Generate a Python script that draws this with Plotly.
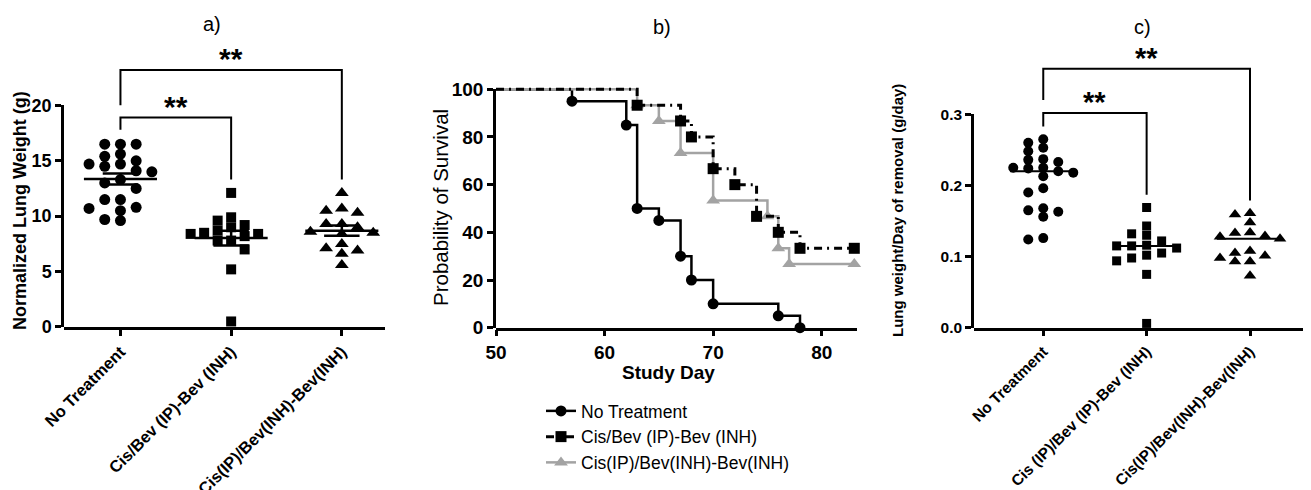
import numpy as np
import plotly.graph_objects as go

# the page adds an 8px body margin; the figure is sized to fill the rest of the window
PAGE_OFF = 8
W, H = 1311 - PAGE_OFF, 490 - PAGE_OFF
FONT = "Liberation Sans, Arial, sans-serif"
GRAY = "#a3a3a3"

# ---------------- data ----------------
groups_a = ["No Treatment", "Cis/Bev (IP)-Bev (INH)", "Cis(IP)/Bev(INH)-Bev(INH)"]
groups_c = ["No Treatment", "Cis (IP)/Bev (IP)-Bev (INH)", "Cis(IP)/Bev(INH)-Bev(INH)"]

weight_no_treatment = [16.5, 16.5, 16.5, 15.6, 15.4, 15.0, 14.7, 14.7, 14.5, 14.0, 13.3,
                       14.1, 13.0, 12.5, 11.5, 11.5, 10.7, 10.8, 10.5, 9.6, 9.7]
weight_cis_bev_ip = [12.1, 9.9, 9.6, 9.2, 9.0, 8.7, 8.5, 8.4, 8.4, 8.2, 7.8, 7.8, 7.0, 5.2, 0.5]
weight_cis_ip_bev_inh = [12.1, 10.7, 10.5, 10.3, 9.3, 9.3, 9.0, 8.6, 8.5, 8.4, 7.5, 7.1, 6.9, 6.6, 5.6]

rate_no_treatment = [0.265, 0.260, 0.253, 0.248, 0.233, 0.236, 0.237, 0.224, 0.225, 0.225, 0.213,
                     0.218, 0.220, 0.196, 0.190, 0.163, 0.156, 0.165, 0.168, 0.124, 0.126]
rate_cis_bev_ip = [0.169, 0.143, 0.132, 0.130, 0.122, 0.116, 0.115, 0.115, 0.112, 0.105, 0.102,
                   0.098, 0.094, 0.075, 0.006]
rate_cis_ip_bev_inh = [0.161, 0.159, 0.148, 0.134, 0.133, 0.129, 0.128, 0.125, 0.108, 0.105,
                       0.101, 0.098, 0.093, 0.093, 0.073]

surv_series = ["No Treatment", "Cis/Bev (IP)-Bev (INH)", "Cis(IP)/Bev(INH)-Bev(INH)"]
surv_start_day = 50
surv_start_pct = 100
surv_days_nt = [57, 62, 63, 65, 67, 68, 70, 76, 78]
surv_pct_nt = [95, 85, 50, 45, 30, 20, 10, 5, 0]
surv_days_ip = [63, 67, 68, 70, 72, 74, 76, 78, 83]
surv_pct_ip = [93.3, 86.7, 80, 66.7, 60, 46.7, 40, 33.3, 33.3]
surv_days_inh = [63, 65, 67, 70, 75, 76, 77, 83]
surv_pct_inh = [93.3, 86.7, 73.3, 53.3, 46.7, 33.3, 26.7, 26.7]

# brackets: (group_from, group_to, top, left_leg_end, right_leg_end)
brackets_a = [(0, 1, 18.9, 17.8, 13.3), (0, 2, 23.2, 20.0, 13.3)]
brackets_c = [(0, 1, 0.302, 0.283, 0.187), (0, 2, 0.364, 0.320, 0.179)]
sig_label = "**"

y_ticks_a = [0, 5, 10, 15, 20]
y_ticks_b = [0, 20, 40, 60, 80, 100]
x_ticks_b = [50, 60, 70, 80]
y_ticks_c = [0.0, 0.1, 0.2, 0.3]

symbols = ["circle", "square", "triangle-up"]
sizes = [11, 10, 12]

# ---------------- geometry (pixels in the window) ----------------
A = dict(x0=64, x1=385, xr=[-0.51, 2.39], y0=327, y1=30, yr=[0, 26.8])
B = dict(x0=496, x1=857, xr=[50, 83.25], y0=327.7, y1=82.1, yr=[0, 103])
C = dict(x0=974, x1=1311, xr=[-0.67, 2.59], y0=327.7, y1=30, yr=[0, 0.4186])


def fx(px):
    return (px - PAGE_OFF) / W


def fy(py):
    return 1 - (py - PAGE_OFF) / H


def dom_x(g):
    return [fx(g["x0"]), min(1.0, fx(g["x1"]))]


def dom_y(g):
    return [fy(g["y0"]), fy(g["y1"])]


def dom_y_upto(g, v):
    b, t = dom_y(g)
    return [b, b + (t - b) * (v - g["yr"][0]) / (g["yr"][1] - g["yr"][0])]


def swarm(vals, g, step_px, dy_px):
    """Column-style scatter: each point takes the nearest free slot (0, -1, +1, -2, ...)."""
    pxc = (g["x1"] - g["x0"]) / (g["xr"][1] - g["xr"][0])
    pxu = (g["y0"] - g["y1"]) / (g["yr"][1] - g["yr"][0])
    vals = np.asarray(vals, float)
    order = np.argsort(-vals, kind="stable")
    cands = [0]
    for k in range(1, 10):
        cands += [-k, k]
    placed = []
    offs = np.zeros(len(vals))
    for i in order:
        yy = vals[i] * pxu
        for c in cands:
            if all(not (c == pc and abs(yy - py) < dy_px) for pc, py in placed):
                break
        placed.append((c, yy))
        offs[i] = c * step_px / pxc
    return offs


fig = go.Figure()

# ---------------- panel a ----------------
for gi, vals in enumerate([weight_no_treatment, weight_cis_bev_ip, weight_cis_ip_bev_inh]):
    offs = swarm(vals, A, 15.7 if gi != 1 else 13.5, 9.5)
    fig.add_trace(go.Scatter(x=gi + offs, y=vals, mode="markers", xaxis="x", yaxis="y",
                             marker=dict(symbol=symbols[gi], size=sizes[gi], color="black"),
                             showlegend=False, cliponaxis=False, hoverinfo="y"))
    m = float(np.mean(vals))
    s = float(np.std(vals, ddof=1) / np.sqrt(len(vals)))
    fig.add_trace(go.Scatter(
        x=[gi - 0.33, gi + 0.33, None, gi - 0.16, gi + 0.16, None, gi, gi, None, gi - 0.16, gi + 0.16],
        y=[m, m, None, m + s, m + s, None, m + s, m - s, None, m - s, m - s],
        mode="lines", line=dict(color="black", width=2.5), xaxis="x", yaxis="y",
        showlegend=False, hoverinfo="skip"))

for (g0, g1, top, l, r) in brackets_a:
    fig.add_trace(go.Scatter(x=[g0, g0, g1, g1], y=[l, top, top, r], mode="lines",
                             line=dict(color="black", width=2), xaxis="x", yaxis="y",
                             showlegend=False, hoverinfo="skip"))
    fig.add_annotation(x=(g0 + g1) / 2, y=top, xref="x", yref="y", text=sig_label,
                       showarrow=False, yanchor="bottom", yshift=-7,
                       font=dict(family=FONT, size=30, color="black", weight="bold"))

# ---------------- panel b ----------------
surv = [(surv_days_nt, surv_pct_nt, "black", "solid", "circle", 11),
        (surv_days_ip, surv_pct_ip, "black", "8px,5px,2px,5px", "square", 11),
        (surv_days_inh, surv_pct_inh, GRAY, "solid", "triangle-up", 12)]
draw_order = [0, 2, 1]
for si in draw_order:
    days, pct, col, dash, sym, msz = surv[si]
    lw = 3 if si == 1 else 2.5
    fig.add_trace(go.Scatter(x=[surv_start_day, days[0]], y=[surv_start_pct, pct[0]],
                             mode="lines", line=dict(color=col, width=lw, dash=dash, shape="hv"),
                             xaxis="x2", yaxis="y2", showlegend=False, hoverinfo="skip"))
    fig.add_trace(go.Scatter(x=days, y=pct, mode="lines+markers", name=surv_series[si],
                             line=dict(color=col, width=lw, dash=dash, shape="hv"),
                             marker=dict(symbol=sym, size=msz, color=col),
                             xaxis="x2", yaxis="y2", legendrank=si + 1, cliponaxis=False))

# ---------------- panel c ----------------
for gi, vals in enumerate([rate_no_treatment, rate_cis_bev_ip, rate_cis_ip_bev_inh]):
    offs = swarm(vals, C, 15.0, 8.0)
    fig.add_trace(go.Scatter(x=gi + offs, y=vals, mode="markers", xaxis="x3", yaxis="y3",
                             marker=dict(symbol=symbols[gi], size=sizes[gi] - 1, color="black"),
                             showlegend=False, cliponaxis=False, hoverinfo="y"))
    med = float(np.median(vals))
    fig.add_trace(go.Scatter(x=[gi - 0.32, gi + 0.32], y=[med, med], mode="lines",
                             line=dict(color="black", width=2), xaxis="x3", yaxis="y3",
                             showlegend=False, hoverinfo="skip"))

for (g0, g1, top, l, r) in brackets_c:
    fig.add_trace(go.Scatter(x=[g0, g0, g1, g1], y=[l, top, top, r], mode="lines",
                             line=dict(color="black", width=2), xaxis="x3", yaxis="y3",
                             showlegend=False, hoverinfo="skip"))
    fig.add_annotation(x=(g0 + g1) / 2, y=top, xref="x3", yref="y3", text=sig_label,
                       showarrow=False, yanchor="bottom", yshift=-7,
                       font=dict(family=FONT, size=29, color="black", weight="bold"))

# empty traces so the display y axes get drawn
for xa, ya in [("x", "y4"), ("x2", "y5"), ("x3", "y6")]:
    fig.add_trace(go.Scatter(x=[None], y=[None], xaxis=xa, yaxis=ya, mode="markers",
                             showlegend=False, hoverinfo="skip"))

# ---------------- axes ----------------
axline = dict(showline=True, linecolor="black", linewidth=2.5, ticks="outside",
              ticklen=6, tickwidth=2.5, tickcolor="black", showgrid=False, zeroline=False,
              automargin=False, fixedrange=True)
hidden_y = dict(visible=False, showgrid=False, zeroline=False, fixedrange=True, automargin=False)

fig.update_layout(
    xaxis=dict(domain=dom_x(A), range=A["xr"], anchor="y", tickvals=[0, 1, 2], ticktext=groups_a,
               tickangle=-45, tickfont=dict(family=FONT, size=16.5, color="black", weight="bold"),
               **axline),
    yaxis=dict(domain=dom_y(A), range=A["yr"], anchor="x", **hidden_y),
    yaxis4=dict(domain=dom_y_upto(A, 20), range=[0, 20], anchor="x", tickvals=y_ticks_a,
                tickfont=dict(family=FONT, size=18, color="black", weight="bold"), **axline),

    xaxis2=dict(domain=dom_x(B), range=B["xr"], anchor="y2", tickvals=x_ticks_b,
                tickfont=dict(family=FONT, size=19, color="black", weight="bold"), **axline),
    yaxis2=dict(domain=dom_y(B), range=B["yr"], anchor="x2", **hidden_y),
    yaxis5=dict(domain=dom_y_upto(B, 100), range=[0, 100], anchor="x2", tickvals=y_ticks_b,
                tickfont=dict(family=FONT, size=19, color="black", weight="bold"), **axline),

    xaxis3=dict(domain=dom_x(C), range=C["xr"], anchor="y3", tickvals=[0, 1, 2], ticktext=groups_c,
                tickangle=-45, tickfont=dict(family=FONT, size=15.5, color="black", weight="bold"),
                **axline),
    yaxis3=dict(domain=dom_y(C), range=C["yr"], anchor="x3", **hidden_y),
    yaxis6=dict(domain=dom_y_upto(C, 0.3), range=[0, 0.3], anchor="x3", tickvals=y_ticks_c,
                tickformat=".1f",
                tickfont=dict(family=FONT, size=15.5, color="black", weight="bold"), **axline),
)

# ---------------- text ----------------
def ann(text, px, py, size, bold=False, angle=0):
    fig.add_annotation(x=fx(px), y=fy(py), xref="paper", yref="paper", text=text,
                       showarrow=False, textangle=angle, xanchor="center", yanchor="middle",
                       font=dict(family=FONT, size=size, color="black",
                                 weight="bold" if bold else "normal"))


ann("a)", 212, 24, 20)
ann("b)", 662, 27, 20)
ann("c)", 1142, 27, 20)
ann("Normalized Lung Weight (g)", 20, 211, 18, bold=True, angle=-90)
ann("Probability of Survival", 440, 207, 20.5, angle=-90)
ann("Lung weight/Day of removal (g/day)", 897, 211, 15, bold=True, angle=-90)
ann("Study Day", 668, 372, 19, bold=True)

fig.update_layout(
    width=W, height=H, autosize=False,
    margin=dict(l=0, r=0, t=0, b=0, pad=0, autoexpand=False),
    paper_bgcolor="white", plot_bgcolor="rgba(0,0,0,0)",
    font=dict(family=FONT, color="black"),
    showlegend=True,
    legend=dict(x=fx(541), y=fy(393), xanchor="left", yanchor="top",
                font=dict(family=FONT, size=17.5, color="black"),
                bgcolor="rgba(0,0,0,0)", itemwidth=30, traceorder="normal"),
)

fig.write_html("out.html")
